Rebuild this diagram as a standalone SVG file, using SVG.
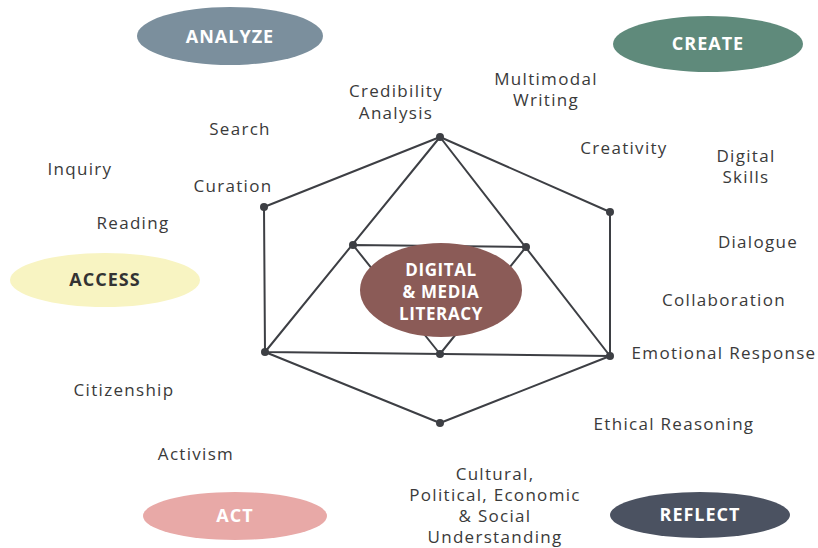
<svg xmlns="http://www.w3.org/2000/svg" width="818" height="548" viewBox="0 0 818 548">
  <style>
    .lbl { font-family: "Open Sans", "Noto Sans", sans-serif; font-size: 17px; letter-spacing: 1.3px; fill: #3a3a3a; text-anchor: middle; }
    .head { font-family: "Open Sans", "Noto Sans", sans-serif; font-size: 18px; letter-spacing: 1px; font-weight: 700; fill: #ffffff; text-anchor: middle; }
    .core { font-family: "Open Sans", "Noto Sans", sans-serif; font-size: 17px; letter-spacing: 0.6px; font-weight: 700; fill: #ffffff; text-anchor: middle; }
    .edge { stroke: #3d3f44; stroke-width: 2; fill: none; stroke-linejoin: round; }
    .dot { fill: #3d3f44; }
  </style>
  <rect width="818" height="548" fill="#ffffff"/>

  <!-- framework lines -->
  <g id="connectors">
    <polygon class="edge" points="440,137 264,207 265,352 440,423 610,356 610,212"/>
    <polygon class="edge" points="440,137 265,352 610,356"/>
    <polygon class="edge" points="353,245 526,247 440,354"/>
    <g class="dot">
      <circle cx="440" cy="137" r="4"/>
      <circle cx="264" cy="207" r="4"/>
      <circle cx="610" cy="212" r="4"/>
      <circle cx="265" cy="352" r="4"/>
      <circle cx="610" cy="356" r="4"/>
      <circle cx="440" cy="423" r="4"/>
      <circle cx="353" cy="245" r="4"/>
      <circle cx="526" cy="247" r="4"/>
      <circle cx="440" cy="354" r="4"/>
    </g>
  </g>

  <g id="core">
    <ellipse cx="441" cy="290" rx="81" ry="47" fill="#8b5b57"/>
    <text class="core" x="441" y="276">DIGITAL</text>
    <text class="core" x="441" y="298">&amp; MEDIA</text>
    <text class="core" x="441" y="320">LITERACY</text>
  </g>

  <g id="analyze">
    <ellipse cx="230" cy="36" rx="93" ry="29" fill="#7b8f9d"/>
    <text class="head" x="230" y="43">ANALYZE</text>
  </g>
  <g id="create">
    <ellipse cx="708" cy="44" rx="95" ry="28" fill="#5f8a7b"/>
    <text class="head" x="708" y="50">CREATE</text>
  </g>
  <g id="access">
    <ellipse cx="105" cy="280" rx="95" ry="27" fill="#f8f4c2"/>
    <text class="head" x="105" y="286" style="fill:#333333">ACCESS</text>
  </g>
  <g id="act">
    <ellipse cx="235" cy="516" rx="92" ry="24" fill="#e8a9a7"/>
    <text class="head" x="235" y="522">ACT</text>
  </g>
  <g id="reflect">
    <ellipse cx="700" cy="515" rx="90" ry="23" fill="#4b5261"/>
    <text class="head" x="700" y="521">REFLECT</text>
  </g>

  <!-- competencies -->
  <g id="labels">
    <text class="lbl" x="396" y="97">Credibility</text>
    <text class="lbl" x="396" y="119">Analysis</text>
    <text class="lbl" x="546" y="85">Multimodal</text>
    <text class="lbl" x="546" y="106">Writing</text>
    <text class="lbl" x="240" y="135">Search</text>
    <text class="lbl" x="80" y="175">Inquiry</text>
    <text class="lbl" x="233" y="192">Curation</text>
    <text class="lbl" x="133" y="229">Reading</text>
    <text class="lbl" x="624" y="154">Creativity</text>
    <text class="lbl" x="746" y="162">Digital</text>
    <text class="lbl" x="746" y="183">Skills</text>
    <text class="lbl" x="758" y="248">Dialogue</text>
    <text class="lbl" x="724" y="306">Collaboration</text>
    <text class="lbl" x="724" y="359">Emotional Response</text>
    <text class="lbl" x="124" y="396">Citizenship</text>
    <text class="lbl" x="674" y="430">Ethical Reasoning</text>
    <text class="lbl" x="196" y="460">Activism</text>
    <text class="lbl" x="495" y="480">Cultural,</text>
    <text class="lbl" x="495" y="501">Political, Economic</text>
    <text class="lbl" x="495" y="522">&amp; Social</text>
    <text class="lbl" x="495" y="543">Understanding</text>
  </g>
</svg>
